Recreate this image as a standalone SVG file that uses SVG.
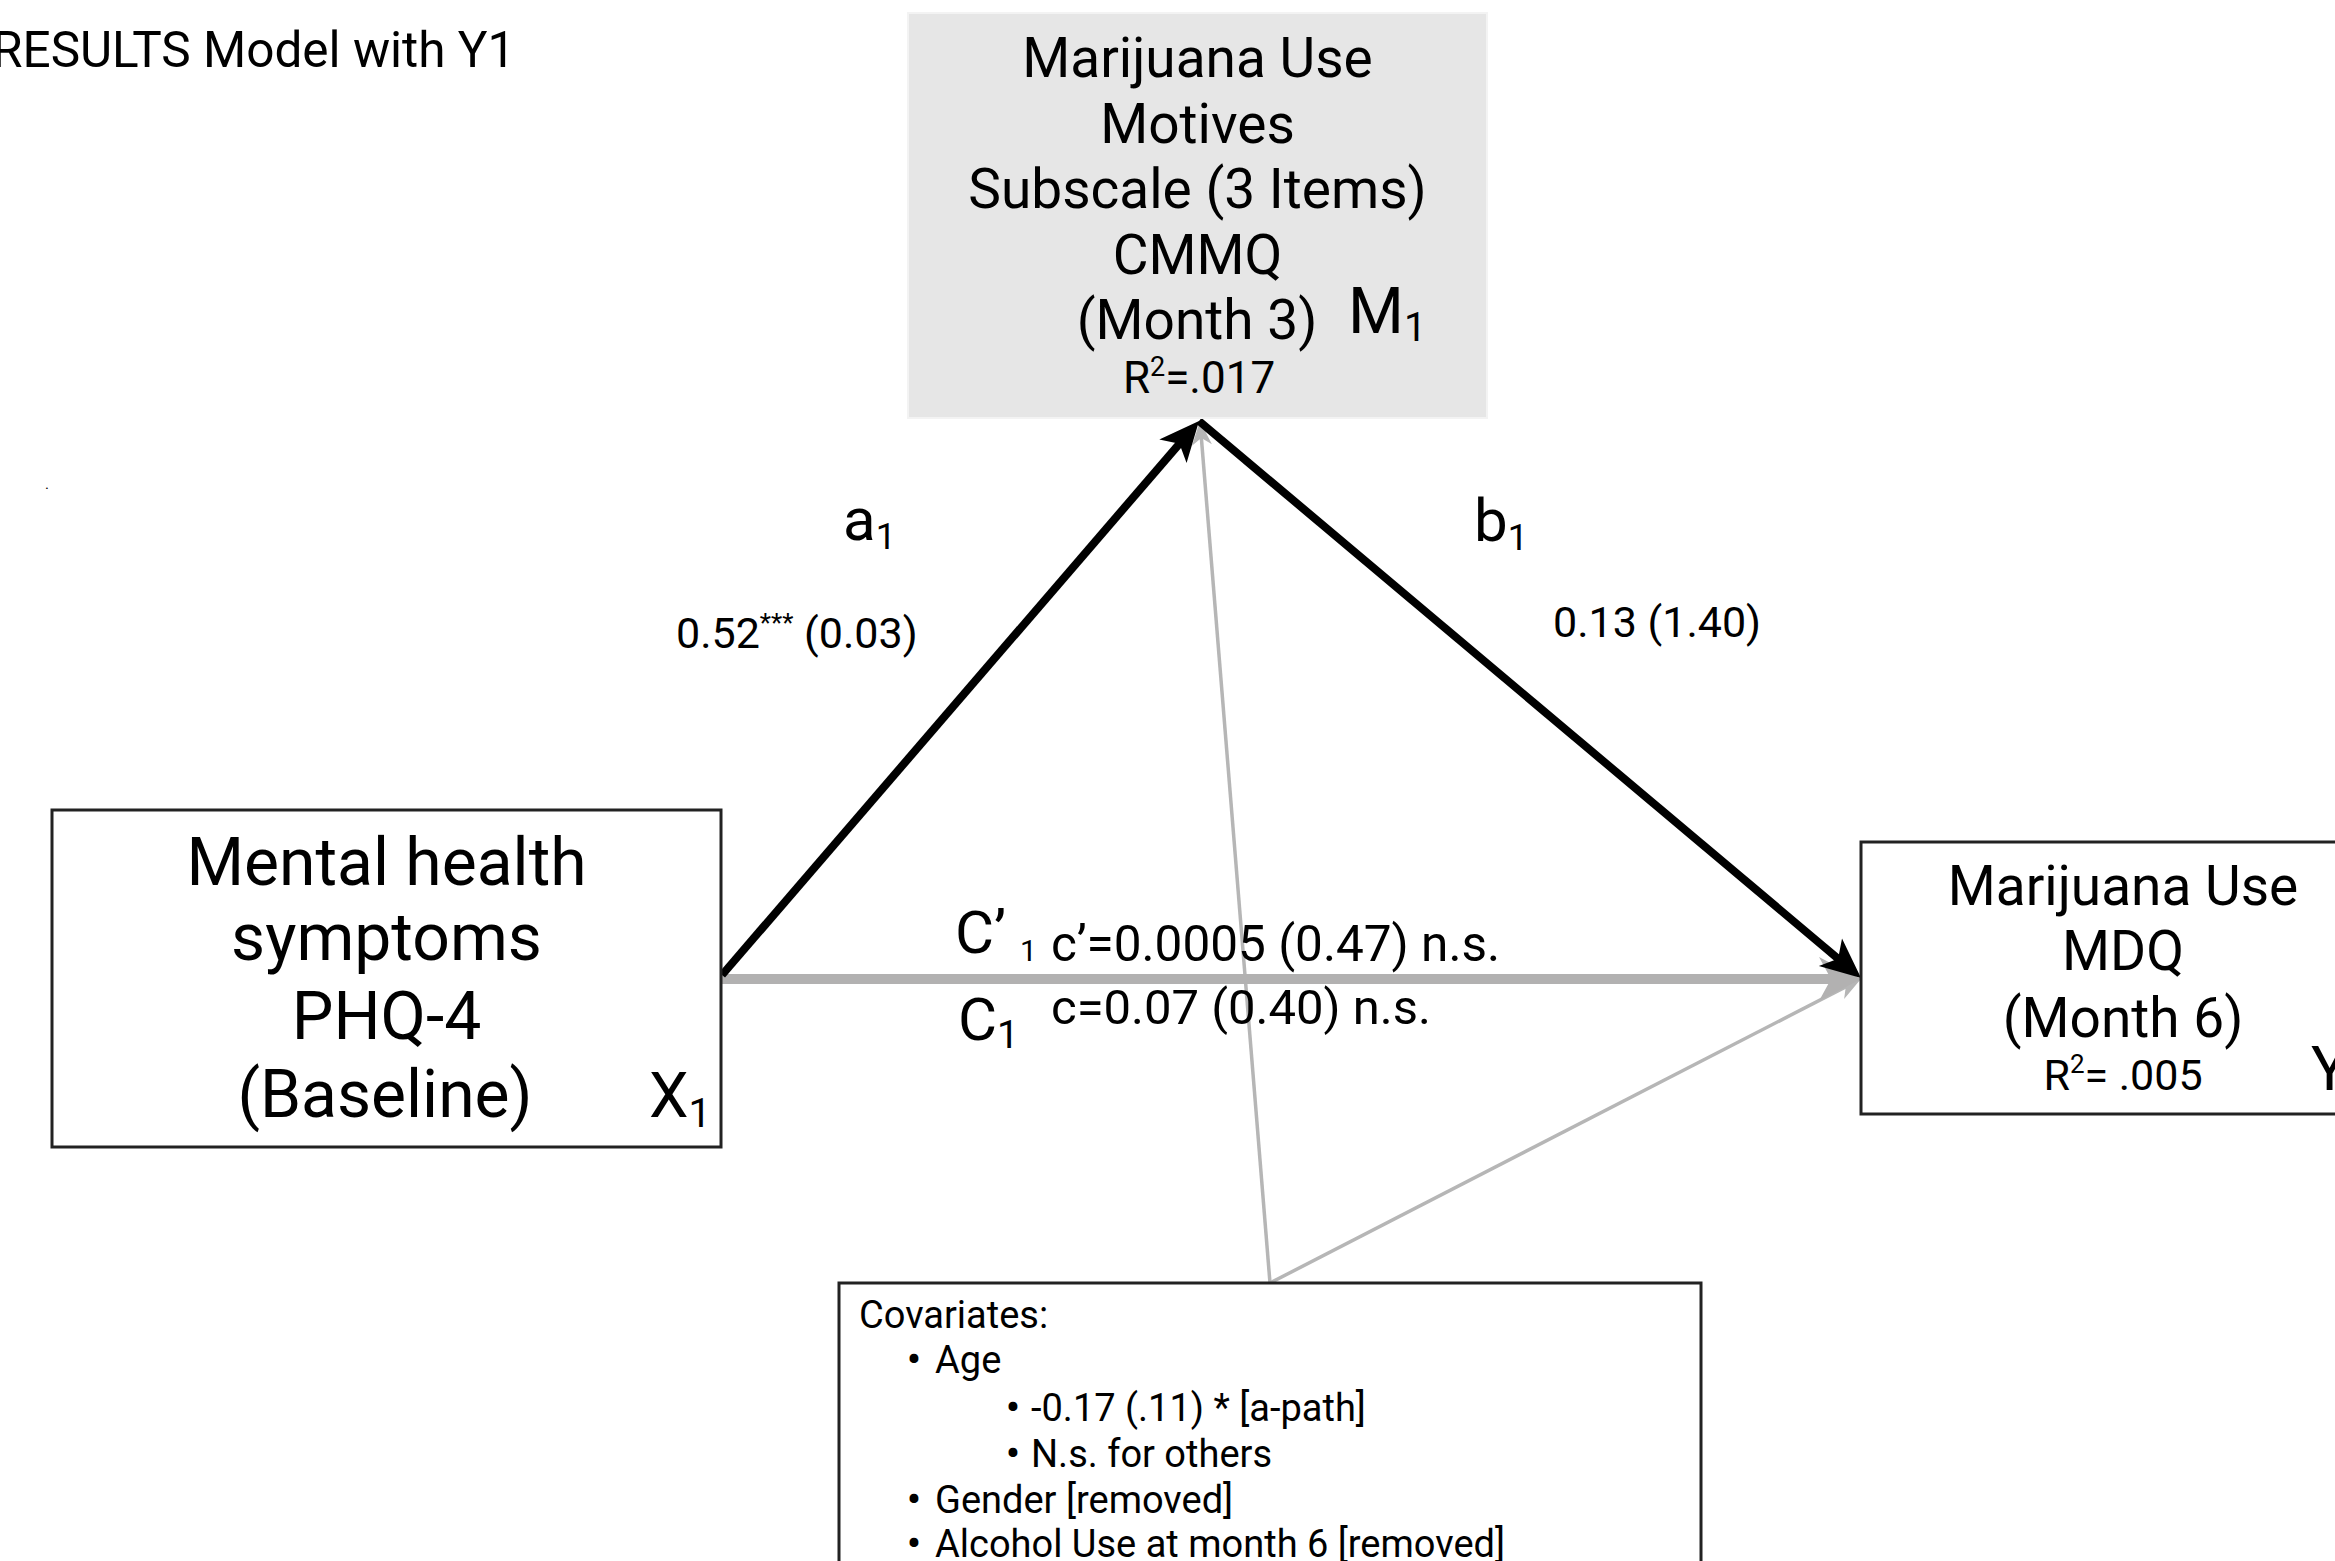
<svg xmlns="http://www.w3.org/2000/svg" width="2335" height="1561" viewBox="0 0 2335 1561">
<style>
text { font-family: Roboto, "Liberation Sans", sans-serif; fill: #000; }
.node { fill: #fff; stroke: #222; stroke-width: 3; }
.mid { text-anchor: middle; }
.big { font-size: 55px; }
.x1 { font-size: 66px; }
.lab { font-size: 60px; }
.coef { font-size: 43px; }
.cov { font-size: 38px; }
.bul { font-weight: bold; }
.blk { stroke: #000; stroke-width: 8; fill: none; }
.gry { stroke: #b2b1b1; stroke-width: 10; fill: none; }
.thin { stroke: #b6b6b6; stroke-width: 3.5; fill: none; }
</style>
<defs>
<marker id="hb" markerUnits="userSpaceOnUse" markerWidth="60" markerHeight="60" refX="0" refY="0" viewBox="-30 -30 60 60" orient="auto" overflow="visible">
<path d="M16,0 L-24,-18 L-14,0 L-24,18 Z" fill="#000"/>
</marker>
<marker id="hg" markerUnits="userSpaceOnUse" markerWidth="70" markerHeight="70" refX="0" refY="0" viewBox="-35 -35 70 70" orient="auto" overflow="visible">
<path d="M18,0 L-24,-22 L-12,0 L-24,22 Z" fill="#b2b1b1"/>
</marker>
<marker id="ht" markerUnits="userSpaceOnUse" markerWidth="40" markerHeight="40" refX="0" refY="0" viewBox="-20 -20 40 40" orient="auto" overflow="visible">
<path d="M10,0 L-14,-10 L-7,0 L-14,10 Z" fill="#b6b6b6"/>
</marker>
</defs>
<rect width="2335" height="1561" fill="#fff"/>

<text x="-8" y="67" font-size="49.5">RESULTS Model with Y1</text>
<text x="45" y="489" font-size="15">.</text>

<g id="connectors">
<line class="thin" x1="1270" y1="1283" x2="1200.8" y2="431" marker-end="url(#ht)"/>
<line class="thin" x1="1270" y1="1283" x2="1852" y2="983.6" marker-end="url(#ht)"/>
<line class="gry" x1="721" y1="979" x2="1843" y2="979" marker-end="url(#hg)"/>
<line class="blk" x1="722" y1="975" x2="1188.6" y2="433.1" marker-end="url(#hb)"/>
<line class="blk" x1="1199" y1="421" x2="1848.8" y2="967.7" marker-end="url(#hb)"/>
</g>

<g id="M1">
<rect x="908" y="13" width="579" height="405" fill="#e6e6e6" stroke="#f3f3f3" stroke-width="2"/>
<text class="big mid" x="1197.5" y="77">Marijuana Use</text>
<text class="big mid" x="1197.5" y="143">Motives</text>
<text class="big mid" x="1197.5" y="208">Subscale (3 Items)</text>
<text class="big mid" x="1197.5" y="274">CMMQ</text>
<text class="big mid" x="1197" y="339">(Month 3)</text>
<text class="mid" x="1199" y="393" font-size="44">R<tspan font-size="27" dy="-17">2</tspan><tspan dy="17">=.017</tspan></text>
<text x="1348" y="333" font-size="64">M<tspan font-size="40" dy="8">1</tspan></text>
</g>

<g id="X1">
<rect class="node" x="52" y="810" width="669" height="337"/>
<text class="x1 mid" x="386.5" y="885">Mental health</text>
<text class="x1 mid" x="386.5" y="960">symptoms</text>
<text class="x1 mid" x="386.5" y="1039">PHQ-4</text>
<text class="x1 mid" x="385" y="1117">(Baseline)</text>
<text x="649" y="1117" font-size="63">X<tspan font-size="40" dy="10">1</tspan></text>
</g>

<g id="Y1">
<rect class="node" x="1861" y="842" width="520" height="272"/>
<text class="big mid" x="2123" y="905">Marijuana Use</text>
<text class="big mid" x="2123" y="970">MDQ</text>
<text class="big mid" x="2123" y="1037">(Month 6)</text>
<text class="mid" x="2123" y="1090" font-size="43">R<tspan font-size="26" dy="-17">2</tspan><tspan dy="17">= .005</tspan></text>
<text x="2311" y="1090" font-size="62">Y</text>
</g>

<g id="Covariates">
<rect class="node" x="839" y="1283" width="862" height="330"/>
<text class="cov" x="859" y="1328">Covariates:</text>
<text class="cov" x="907" y="1373"><tspan class="bul">•</tspan><tspan x="935">Age</tspan></text>
<text class="cov" x="1006" y="1421"><tspan class="bul">•</tspan><tspan x="1031">-0.17 (.11) * [a-path]</tspan></text>
<text class="cov" x="1006" y="1467"><tspan class="bul">•</tspan><tspan x="1031">N.s. for others</tspan></text>
<text class="cov" x="907" y="1513"><tspan class="bul">•</tspan><tspan x="935">Gender [removed]</tspan></text>
<text class="cov" x="907" y="1557"><tspan class="bul">•</tspan><tspan x="935">Alcohol Use at month 6 [removed]</tspan></text>
</g>

<g id="labels">
<text class="lab" x="843" y="540">a<tspan font-size="36" dy="9">1</tspan></text>
<text class="lab" x="1474" y="541">b<tspan font-size="36" dy="9">1</tspan></text>
<text class="coef" x="676" y="648">0.52<tspan font-size="26" dy="-16">***</tspan><tspan dy="16"> (0.03)</tspan></text>
<text class="coef" x="1553" y="637">0.13 (1.40)</text>
<text class="lab" x="955" y="953">C’<tspan font-size="30" x="1020" dy="8">1</tspan></text>
<text x="1051" y="961" font-size="49.5">c’=0.0005 (0.47) n.s.</text>
<text class="lab" x="958" y="1040">C<tspan font-size="39" dy="8">1</tspan></text>
<text x="1051" y="1024" font-size="49">c=0.07 (0.40) n.s.</text>
</g>
</svg>
